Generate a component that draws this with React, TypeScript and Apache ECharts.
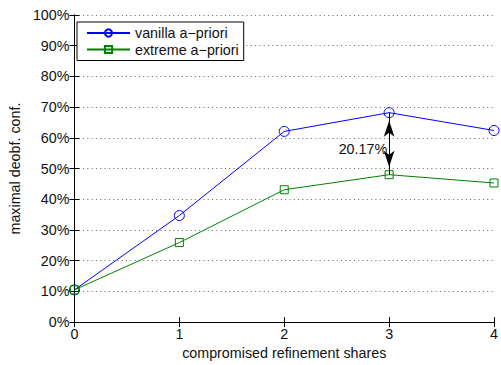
import React, { useEffect, useRef } from "react";
import * as echarts from "echarts";

const shares = [0, 1, 2, 3, 4];
const vanilla = [10.5, 34.7, 62.1, 68.2, 62.4];
const extreme = [10.5, 25.9, 43.1, 48.0, 45.3];
const seriesNames = ["vanilla a\u2212priori", "extreme a\u2212priori"];
const diffLabel = "20.17%";
const diffAt = 3;
const diffLabelY = 56.5;

const FONT = "'Liberation Sans', Arial, Helvetica, sans-serif";
const FS = 14.3;
const TXT = "#111";

export default function App() {
  const ref = useRef<HTMLDivElement>(null);
  useEffect(() => {
    if (!ref.current) return;
    const chart = echarts.init(ref.current, undefined, { renderer: "svg", width: 501, height: 365 });
    const i = shares.indexOf(diffAt);
    chart.setOption({
      animation: false,
      backgroundColor: "#fff",
      textStyle: { fontFamily: FONT },
      grid: { left: 70, right: 2, top: 15, bottom: 38, containLabel: false },
      legend: {
        orient: "vertical",
        left: 77,
        top: 22,
        padding: [4, 5, 4, 9],
        itemGap: 2.5,
        itemWidth: 43,
        itemHeight: 9,
        borderColor: "#000",
        borderWidth: 1,
        backgroundColor: "#fff",
        textStyle: { fontSize: FS, color: TXT, fontFamily: FONT },
        data: seriesNames,
      },
      xAxis: [
        {
          type: "value",
          min: 0,
          max: 4,
          interval: 1,
          name: "compromised refinement shares",
          nameLocation: "middle",
          nameGap: 21,
          nameTextStyle: { fontSize: FS, color: TXT, fontFamily: FONT },
          axisLine: { lineStyle: { color: "#000", width: 1 } },
          axisTick: { inside: true, length: 5, lineStyle: { color: "#000" } },
          axisLabel: { fontSize: FS, color: TXT, margin: 5 },
          splitLine: { show: false },
        },
        {
          type: "value",
          position: "top",
          min: 0,
          max: 4,
          interval: 1,
          axisLine: { show: true, lineStyle: { color: "#000", width: 1 } },
          axisTick: { inside: true, length: 5, lineStyle: { color: "#000" } },
          axisLabel: { show: false },
          splitLine: { show: false },
        },
      ],
      yAxis: [
        {
          type: "value",
          min: 0,
          max: 100,
          interval: 10,
          name: "maximal deobf. conf.",
          nameLocation: "middle",
          nameGap: 45,
          nameTextStyle: { fontSize: FS, color: TXT, fontFamily: FONT },
          axisLine: { show: true, lineStyle: { color: "#000", width: 1 } },
          axisTick: { show: true, inside: true, length: 5, lineStyle: { color: "#000" } },
          axisLabel: { fontSize: FS, color: TXT, margin: 5, formatter: "{value}%" },
          splitLine: { show: true, lineStyle: { color: "#666", type: [1, 3.3], width: 1 } },
        },
        {
          type: "value",
          position: "right",
          min: 0,
          max: 100,
          interval: 10,
          axisLine: { show: true, lineStyle: { color: "#000", width: 1 } },
          axisTick: { show: true, inside: true, length: 5, lineStyle: { color: "#000" } },
          axisLabel: { show: false },
          splitLine: { show: false },
        },
      ],
      series: [
        {
          name: seriesNames[0],
          type: "line",
          data: shares.map((x, k) => [x, vanilla[k]]),
          symbol: "circle",
          symbolSize: 10,
          lineStyle: { color: "#0000ff", width: 1 },
          itemStyle: { color: "rgba(255,255,255,0)", borderColor: "#0000ff", borderWidth: 1 },
          markLine: {
            silent: true,
            symbol: ["arrow", "arrow"],
            symbolSize: [8, 16],
            symbolOffset: [[0, 8], [0, 8]],
            label: { show: false },
            lineStyle: { color: "#000", type: "solid", width: 1 },
            data: [[{ coord: [diffAt, vanilla[i]] }, { coord: [diffAt, extreme[i]] }]],
          },
          z: 3,
        },
        {
          name: seriesNames[1],
          type: "line",
          data: shares.map((x, k) => [x, extreme[k]]),
          symbol: "rect",
          symbolSize: 8,
          lineStyle: { color: "#008000", width: 1 },
          itemStyle: { color: "rgba(255,255,255,0)", borderColor: "#008000", borderWidth: 1 },
          z: 3,
        },
      ],
    });
    const p = chart.convertToPixel({ gridIndex: 0 }, [diffAt, diffLabelY]) as number[];
    chart.setOption({
      graphic: [
        {
          type: "text",
          x: p[0] - 2,
          y: p[1],
          silent: true,
          style: {
            text: diffLabel,
            fontSize: FS,
            fontFamily: FONT,
            fill: TXT,
            align: "right",
            verticalAlign: "middle",
          },
        },
      ],
    });
    return () => chart.dispose();
  }, []);
  return (
    <div
      ref={ref}
      style={{ position: "fixed", left: 0, top: 0, width: 501, height: 365, background: "#fff" }}
    />
  );
}
